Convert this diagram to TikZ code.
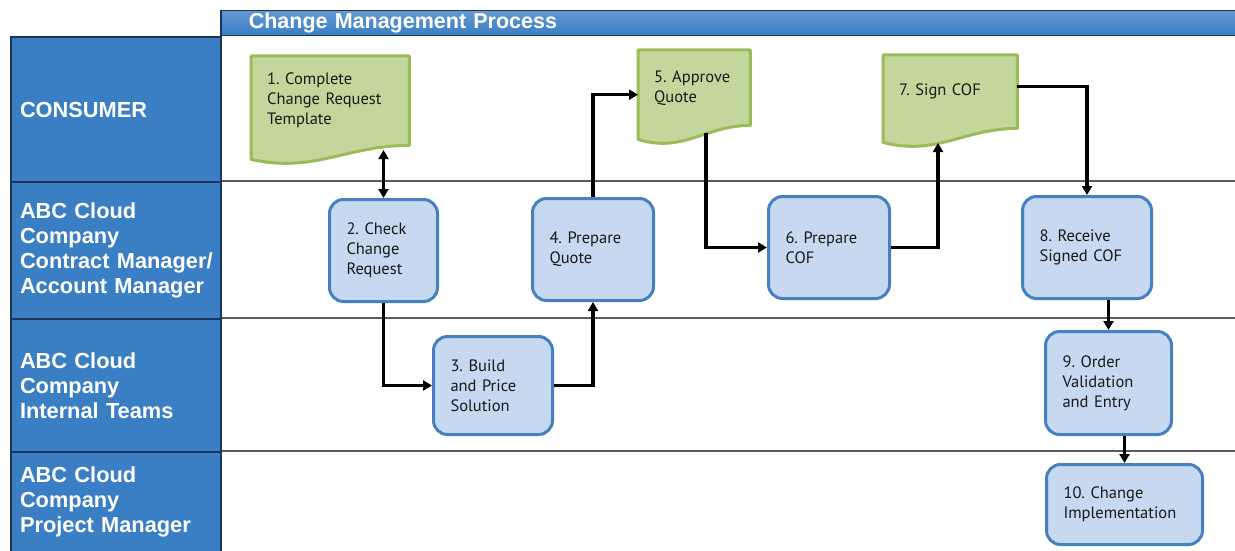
\documentclass[tikz,border=0pt]{standalone}
\usepackage{fontspec}
\setmainfont{PT Sans}
\newfontfamily\lanefont{Liberation Sans}
\usetikzlibrary{arrows.meta,backgrounds}
\frenchspacing

\definecolor{laneblue}{RGB}{58,126,196}
\definecolor{laneedge}{RGB}{28,52,92}
\definecolor{taskfill}{RGB}{198,217,241}
\definecolor{taskedge}{RGB}{70,128,190}
\definecolor{docfill}{RGB}{195,214,155}
\definecolor{docedge}{RGB}{155,187,89}
\definecolor{swimline}{RGB}{90,90,90}

% wavy document outline behind a doc node: #1 node name, #2 its width
\newcommand{\wavedoc}[2]{%
	\begin{scope}[on background layer]
		\draw[docedge, fill=docfill, line width=3pt, line join=round]
		(#1.south east) .. controls +(-0.4*#2,0) and +(0.4*#2,-14) .. ([yshift=-14pt]#1.south west)
		-- (#1.north west) -- (#1.north east) -- cycle;
	\end{scope}}

\begin{document}
\begin{tikzpicture}[x=1pt, y=1pt,
	lane/.style={draw=laneedge, line width=2pt, fill=laneblue, text=white, anchor=north west, minimum width=210pt, text width=192pt, align=left, inner xsep=9pt, font=\lanefont\fontsize{21.8}{25}\selectfont\bfseries},
	title/.style={draw=laneedge, line width=1.5pt, top color=laneblue!80!white, bottom color=laneblue, text=white, anchor=north west, minimum width=1015pt, minimum height=25pt, text width=959pt, align=left, inner xsep=28pt, inner ysep=1pt, font=\lanefont\fontsize{21.5}{25}\selectfont\bfseries},
	task/.style={draw=taskedge, line width=3pt, fill=taskfill, rounded corners=14pt, anchor=north west, align=left, inner xsep=17pt, text=black!90, font=\fontsize{16.5}{20}\selectfont},
	doc/.style={anchor=north west, align=left, inner xsep=16pt, text=black!90, font=\fontsize{16.5}{20}\selectfont},
	swim/.style={draw=swimline, line width=1.5pt},
	flow/.style={line width=3.5pt, >={Triangle[length=9pt,width=10pt]}}]
	
	\useasboundingbox (0,0) rectangle (1235,-551);
	
	% header and lanes
	\node[title] (title) at (220,-10) {Change Management Process};
	\node[lane, minimum height=145pt] (consumer) at (10,-36) {CONSUMER};
	\node[lane, minimum height=137pt] (contract) at (10,-181) {ABC Cloud\\Company\\\mbox{Contract Manager/}\\Account Manager};
	\node[lane, minimum height=133pt] (internal) at (10,-318) {ABC Cloud\\Company\\Internal Teams};
	\node[lane, minimum height=100pt] (project) at (10,-451) {ABC Cloud\\Company\\Project Manager};
	
	\draw[swim] (contract.north east) -- (contract.north east -| title.east);
	\draw[swim] (internal.north east) -- (internal.north east -| title.east);
	\draw[swim] (project.north east) -- (project.north east -| title.east);
	
	% documents
	\node[doc, minimum width=158pt, minimum height=89pt, text width=126pt] (d1) at (251,-56) {1. Complete\\Change Request\\Template};
	\node[doc, minimum width=112pt, minimum height=75pt, text width=80pt] (d5) at (638,-50) {5. Approve\\Quote};
	\node[doc, minimum width=134pt, minimum height=73pt, text width=102pt] (d7) at (883,-55) {7. Sign COF};
	\wavedoc{d1}{158}
	\wavedoc{d5}{112}
	\wavedoc{d7}{134}
	
	% tasks
	\node[task, minimum height=102pt, text width=74pt] (t2) at (328,-198) {2. Check\\Change\\Request};
	\node[task, minimum height=98pt, text width=85pt] (t3) at (432,-335) {3. Build\\and Price\\Solution};
	\node[task, minimum height=102pt, text width=87pt] (t4) at (531,-197) {4. Prepare\\Quote};
	\node[task, minimum height=102pt, text width=87pt] (t6) at (767,-195) {6. Prepare\\COF};
	\node[task, minimum height=102pt, text width=95pt] (t8) at (1021,-195) {8. Receive\\Signed COF};
	\node[task, minimum height=103pt, text width=92pt] (t9) at (1044,-330) {9. Order\\Validation\\and Entry};
	\node[task, minimum height=80pt, text width=122pt] (t10) at (1045,-463) {10. Change\\Implementation};
	
	% points on the wavy edges
	\coordinate (d1w) at (376,-150);
	\coordinate (d5w) at (706,-133);
	\coordinate (d7w) at (938,-143);
	
	\draw[flow, <->] (t2.north) -- (t2.north |- d1w);
	\draw[flow, ->] (t2.south) |- (t3.west);
	\draw[flow, ->] (t3.east) -| (t4.south);
	\draw[flow, ->] (t4.north) |- ([yshift=-7pt]d5.west);
	\draw[flow, ->] (d5w) |- (t6.west);
	\draw[flow, ->] (t6.east) -| (d7w);
	\draw[flow, ->] ([yshift=5pt]d7.east) -| (t8.north);
	\draw[flow, ->] (t8.south -| t9.north) -- (t9.north);
	\draw[flow, ->] (t9.south -| t10.north) -- (t10.north);
	
\end{tikzpicture}
\end{document}
